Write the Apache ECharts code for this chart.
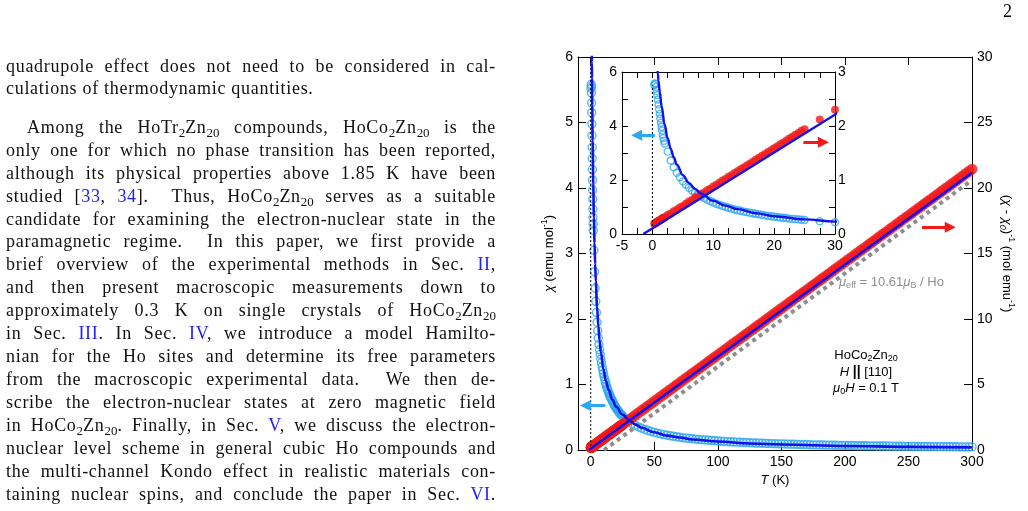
<!DOCTYPE html>
<html>
<head>
<meta charset="UTF-8">
<title>HoCo2Zn20 susceptibility</title>
<script src="https://cdn.jsdelivr.net/npm/echarts@6.0.0/dist/echarts.min.js"></script>
<style>
body{margin:0;background:#fff;width:1028px;height:511px;overflow:hidden;position:relative}
#main{position:absolute;left:0;top:0;width:1028px;height:511px}
.txt{position:absolute;left:6px;width:490px;font-family:"Liberation Serif",serif;font-size:18px;line-height:22.94px;color:#111;letter-spacing:0.7px}
.txt div{text-align:justify;text-align-last:justify;height:22.94px}
.txt div.last{text-align:left;text-align-last:left}
.txt sub{font-size:0.72em;line-height:0;vertical-align:-0.28em;letter-spacing:0}
.ref{color:#2020ff}
#pnum{position:absolute;left:1003px;top:1px;font-family:"Liberation Serif",serif;font-size:18px}
</style>
</head>
<body>
<div id="main"></div>
<div id="pnum">2</div>
<div class="txt" style="top:54.5px">
<div>quadrupole effect does not need to be considered in cal-</div>
<div class="last">culations of thermodynamic quantities.</div>
</div>
<div class="txt" style="top:115.8px">
<div style="padding-left:21px">Among the HoTr<sub>2</sub>Zn<sub>20</sub> compounds, HoCo<sub>2</sub>Zn<sub>20</sub> is the</div>
<div>only one for which no phase transition has been reported,</div>
<div>although its physical properties above 1.85 K have been</div>
<div>studied [<span class="ref">33</span>, <span class="ref">34</span>].&nbsp; Thus, HoCo<sub>2</sub>Zn<sub>20</sub> serves as a suitable</div>
<div>candidate for examining the electron-nuclear state in the</div>
<div>paramagnetic regime.&nbsp; In this paper, we first provide a</div>
<div>brief overview of the experimental methods in Sec. <span class="ref">II</span>,</div>
<div>and then present macroscopic measurements down to</div>
<div>approximately 0.3 K on single crystals of HoCo<sub>2</sub>Zn<sub>20</sub></div>
<div>in Sec. <span class="ref">III</span>. In Sec. <span class="ref">IV</span>, we introduce a model Hamilto-</div>
<div>nian for the Ho sites and determine its free parameters</div>
<div>from the macroscopic experimental data.&nbsp; We then de-</div>
<div>scribe the electron-nuclear states at zero magnetic field</div>
<div>in HoCo<sub>2</sub>Zn<sub>20</sub>. Finally, in Sec. <span class="ref">V</span>, we discuss the electron-</div>
<div>nuclear level scheme in general cubic Ho compounds and</div>
<div>the multi-channel Kondo effect in realistic materials con-</div>
<div>taining nuclear spins, and conclude the paper in Sec. <span class="ref">VI</span>.</div>
</div>
<script type="text/javascript">
// measured data, T (K)
var tempLow = [0.3,0.4,0.5,0.6,0.7,0.8,0.9,1.0,1.1,1.2,1.3,1.4,1.5,1.6,1.7,1.8,1.9];
var chiLow = [5.52,5.58,5.55,5.45,5.30,5.15,4.98,4.80,4.62,4.45,4.28,4.12,3.97,3.83,3.68,3.55,3.45];
var invLow = [0.19,0.20,0.20,0.21,0.22,0.23,0.23,0.24,0.25,0.25,0.26,0.27,0.28,0.28,0.29,0.30,0.30];

var tempMid = [2.0,2.5,3.0,3.5,4.0,4.5,5.0,5.5,6.0,6.5,7.0,7.5,8.0,8.5,9.0,9.5,10.0,10.5,11.0,11.5,12.0,12.5,
  13.0,13.5,14.0,14.5,15.0,15.5,16.0,16.5,17.0,17.5,18.0,18.5,19.0,19.5,20.0,20.5,21.0,21.5,22.0,22.5,
  23.0,23.5,24.0,24.5,25.0];
var chiMid = [3.35,3.05,2.72,2.47,2.27,2.10,1.95,1.82,1.71,1.61,1.53,1.46,1.39,1.33,1.27,1.22,1.17,1.12,1.08,1.04,1.01,0.97,
  0.94,0.91,0.88,0.86,0.83,0.81,0.79,0.77,0.75,0.73,0.71,0.69,0.67,0.66,0.64,0.63,0.61,0.60,0.59,0.57,
  0.56,0.55,0.54,0.53,0.52];
var invMid = [0.31,0.35,0.38,0.42,0.45,0.49,0.52,0.56,0.60,0.63,0.67,0.70,0.74,0.77,0.81,0.84,0.88,0.91,0.95,0.99,1.02,1.06,
  1.09,1.13,1.16,1.20,1.23,1.27,1.30,1.34,1.38,1.41,1.45,1.48,1.52,1.55,1.59,1.62,1.66,1.69,1.73,1.77,
  1.80,1.84,1.87,1.91,1.94];

var tempHigh = [27.5,30,32.5,35,37.5,40,42.5,45,47.5,50,52.5,55,57.5,60,62.5,65,67.5,70,72.5,75,
  77.5,80,82.5,85,87.5,90,92.5,95,97.5,100,102.5,105,107.5,110,112.5,115,117.5,120,122.5,125,
  127.5,130,132.5,135,137.5,140,142.5,145,147.5,150,152.5,155,157.5,160,162.5,165,167.5,170,172.5,175,
  177.5,180,182.5,185,187.5,190,192.5,195,197.5,200,202.5,205,207.5,210,212.5,215,217.5,220,222.5,225,
  227.5,230,232.5,235,237.5,240,242.5,245,247.5,250,252.5,255,257.5,260,262.5,265,267.5,270,272.5,275,
  277.5,280,282.5,285,287.5,290,292.5,295,297.5,300];
var chiHigh = [0.472,0.435,0.405,0.377,0.353,0.332,0.314,0.298,0.282,0.269,
  0.257,0.246,0.235,0.226,0.217,0.209,0.202,0.195,0.188,0.182,
  0.177,0.171,0.166,0.161,0.157,0.153,0.149,0.145,0.141,0.138,
  0.134,0.131,0.128,0.125,0.123,0.120,0.118,0.115,0.113,0.111,
  0.109,0.106,0.105,0.103,0.101,0.099,0.097,0.096,0.094,0.093,
  0.091,0.090,0.088,0.087,0.086,0.084,0.083,0.082,0.081,0.079,
  0.078,0.077,0.076,0.075,0.074,0.073,0.072,0.071,0.071,0.070,
  0.069,0.068,0.067,0.066,0.066,0.065,0.064,0.063,0.063,0.062,
  0.061,0.061,0.060,0.059,0.059,0.058,0.058,0.057,0.056,0.056,
  0.055,0.055,0.054,0.054,0.053,0.053,0.052,0.052,0.051,0.051,
  0.050,0.050,0.050,0.049,0.049,0.048,0.048,0.047,0.047,0.047];
var invHigh = [2.12,2.30,2.47,2.65,2.83,3.01,3.18,3.36,3.54,3.72,
  3.89,4.07,4.25,4.42,4.60,4.78,4.96,5.13,5.31,5.49,
  5.66,5.84,6.02,6.20,6.37,6.55,6.73,6.91,7.08,7.26,
  7.44,7.61,7.79,7.97,8.15,8.32,8.50,8.68,8.86,9.03,
  9.21,9.39,9.56,9.74,9.92,10.10,10.27,10.45,10.63,10.81,
  10.98,11.16,11.34,11.51,11.69,11.87,12.05,12.22,12.40,12.58,
  12.75,12.93,13.11,13.29,13.46,13.64,13.82,13.99,14.17,14.35,
  14.53,14.70,14.88,15.06,15.24,15.41,15.59,15.77,15.94,16.12,
  16.30,16.48,16.65,16.83,17.01,17.19,17.36,17.54,17.72,17.89,
  18.07,18.25,18.43,18.60,18.78,18.96,19.13,19.31,19.49,19.67,
  19.84,20.02,20.20,20.38,20.55,20.73,20.91,21.09,21.26,21.44];

// Curie-Weiss fit curves
var fitChiT = [0.85,0.9,1,1.2,1.5,2,2.5,3,3.5,4,5,6,7,8,10,12,14,17,20,25,30,35,40,50,60,70,80,100,125,150,200,250,300];
var fitChi = [6.04,5.92,5.68,5.26,4.73,4.06,3.55,3.16,2.84,2.58,2.18,1.89,1.67,1.49,1.23,1.05,0.92,0.77,0.66,0.54,
  0.46,0.39,0.34,0.27,0.22,0.19,0.16,0.13,0.10,0.085,0.062,0.048,0.04];
var fitInvT = [-1.5, 300];
var fitInv = [0, 21.16];
// free-ion line, mu_eff = 10.61 mu_B
var muEffT = [10.5, 300];
var muEffInv = [0, 20.6];
// T = 0 guide
var zeroT = [0, 0];
var zeroMain = [0, 6];
var zeroInset = [0, 5.5];
// axis arrows (from, to)
var arrowChiMainT = [11.5, -4.2], arrowChiMainY = [0.68, 0.68];
var arrowInvMainT = [260.7, 282.9], arrowInvMainY = [17.0, 17.0];
var arrowChiInsetT = [0.4, -2.6], arrowChiInsetY = [3.66, 3.66];
var arrowInvInsetT = [24.8, 28.1], arrowInvInsetY = [1.70, 1.70];

// ticks and labels
var mainTTicks = [0,50,100,150,200,250,300];
var insetTTicks = [-5,-2.5,0,2.5,5,7.5,10,12.5,15,17.5,20,22.5,25,27.5,30];
var insetTLabels = [-5,0,10,20,30];
var insetChiTicks = [0,1,2,3,4,5,6];
var insetChiLabels = [0,2,4,6];
var insetInvTicks = [0,0.5,1,1.5,2,2.5,3];
var insetInvLabels = [0,1,2,3];

var tempAll = tempLow.concat(tempMid, tempHigh);
var chiAll = chiLow.concat(chiMid, chiHigh);
var invAll = invLow.concat(invMid, invHigh);

function pairs(xs, ys) {
  return xs.map(function (x, i) { return [x, ys[i]]; });
}

var lightBlue = '#2ca8f0', red = '#f41919', blue = '#1212ea', gray = '#8e8e8e';
var font = 'Liberation Sans';

function arrow(color, xs, ys) {
  return {
    silent: true,
    symbol: ['none', 'triangle'],
    symbolSize: 11,
    label: {show: false},
    lineStyle: {color: color, width: 3, type: 'solid'},
    data: [[{coord: [xs[0], ys[0]]}, {coord: [xs[1], ys[1]]}]]
  };
}

function xAx(grid, min, max, pos, ticks, labels, len) {
  return {
    type: 'value', gridIndex: grid, min: min, max: max, position: pos,
    axisLine: {show: true, onZero: false, lineStyle: {color: '#000', width: 1}},
    axisTick: {show: true, inside: true, length: len, customValues: ticks, lineStyle: {color: '#000'}},
    axisLabel: {show: !!labels, customValues: labels || undefined, color: '#000', fontFamily: font, fontSize: 14, margin: 5},
    splitLine: {show: false}
  };
}

function yAx(grid, min, max, pos, ticks, labels, len) {
  return {
    type: 'value', gridIndex: grid, min: min, max: max, position: pos,
    axisLine: {show: true, onZero: false, lineStyle: {color: '#000', width: 1}},
    axisTick: {show: true, inside: true, length: len, customValues: ticks, lineStyle: {color: '#000'}},
    axisLabel: {show: true, customValues: labels, color: '#000', fontFamily: font, fontSize: 14, margin: 5},
    splitLine: {show: false}
  };
}

var xAxes = [
  xAx(0, -10, 300, 'bottom', mainTTicks, mainTTicks, 8),
  xAx(0, -10, 300, 'top', mainTTicks, null, 8),
  xAx(1, -5, 30, 'bottom', insetTTicks, insetTLabels, 6),
  xAx(1, -5, 30, 'top', insetTTicks, null, 6)
];
xAxes[0].name = '{i|T} (K)';
xAxes[0].nameLocation = 'middle';
xAxes[0].nameGap = 24;
xAxes[0].nameTextStyle = {color: '#000', fontFamily: font, fontSize: 13, rich: {i: {fontStyle: 'italic', fontFamily: font, fontSize: 13}}};

var yAxes = [
  yAx(0, 0, 6, 'left', [0,1,2,3,4,5,6], [0,1,2,3,4,5,6], 8),
  yAx(0, 0, 30, 'right', [0,5,10,15,20,25,30], [0,5,10,15,20,25,30], 8),
  yAx(1, 0, 6, 'left', insetChiTicks, insetChiLabels, 6),
  yAx(1, 0, 3, 'right', insetInvTicks, insetInvLabels, 6)
];
yAxes[3].axisLabel.margin = 3;
yAxes[0].name = '{i|χ} (emu mol{sup|-1})';
yAxes[0].nameLocation = 'middle';
yAxes[0].nameRotate = 90;
yAxes[0].nameGap = 20;
yAxes[0].nameTextStyle = {color: '#000', fontFamily: font, fontSize: 13, lineHeight: 18,
  rich: {i: {fontStyle: 'italic', fontFamily: font, fontSize: 13, lineHeight: 18},
         sup: {fontFamily: font, fontSize: 9, lineHeight: 9, verticalAlign: 'top'}}};
yAxes[1].name = '({i|χ} - {i|χ}{sub|0}){sup|-1} (mol emu{sup|-1})';
yAxes[1].nameLocation = 'middle';
yAxes[1].nameRotate = -90;
yAxes[1].nameGap = 26;
yAxes[1].nameTextStyle = {color: '#000', fontFamily: font, fontSize: 13, lineHeight: 18,
  rich: {i: {fontStyle: 'italic', fontFamily: font, fontSize: 13, lineHeight: 18},
         sub: {fontStyle: 'italic', fontFamily: font, fontSize: 9, lineHeight: 9, verticalAlign: 'bottom'},
         sup: {fontFamily: font, fontSize: 9, lineHeight: 9, verticalAlign: 'top'}}};

function panelSeries(xi, yChi, yInv, zeroTop, circle, dot, lw, arrowChi, arrowInv, withMuEff) {
  var list = [
    {type: 'line', xAxisIndex: xi, yAxisIndex: yChi, data: pairs(zeroT, zeroTop), symbol: 'none', silent: true,
      lineStyle: {color: '#000', width: 1, type: [2, 2]}}
  ];
  if (withMuEff) {
    list.push({type: 'line', xAxisIndex: xi, yAxisIndex: yInv, data: pairs(muEffT, muEffInv), symbol: 'none', silent: true,
      lineStyle: {color: gray, width: 4, type: [4, 4]}});
  }
  return list.concat([
    {type: 'scatter', xAxisIndex: xi, yAxisIndex: yChi, data: pairs(tempAll, chiAll), symbol: 'circle', symbolSize: circle,
      itemStyle: {color: 'rgba(0,0,0,0)', borderColor: lightBlue, borderWidth: 1.4}, markLine: arrowChi},
    {type: 'scatter', xAxisIndex: xi, yAxisIndex: yInv, data: pairs(tempAll, invAll), symbol: 'circle', symbolSize: dot,
      itemStyle: {color: red}, markLine: arrowInv},
    {type: 'line', xAxisIndex: xi, yAxisIndex: yInv, data: pairs(fitInvT, fitInv), symbol: 'none',
      lineStyle: {color: blue, width: lw}},
    {type: 'line', xAxisIndex: xi, yAxisIndex: yChi, data: pairs(fitChiT, fitChi), symbol: 'none',
      smooth: 0.4, smoothMonotone: 'x', lineStyle: {color: blue, width: lw}}
  ]);
}

var mainSeries = panelSeries(0, 0, 1, zeroMain, 8, 11, 2.6,
  arrow(lightBlue, arrowChiMainT, arrowChiMainY), arrow(red, arrowInvMainT, arrowInvMainY), true);
var insetSeries = panelSeries(2, 2, 3, zeroInset, 7, 8, 2.4,
  arrow(lightBlue, arrowChiInsetT, arrowChiInsetY), arrow(red, arrowInvInsetT, arrowInvInsetY), false);

var richSub = {
  i: {fontStyle: 'italic', fontFamily: font, fontSize: 13, lineHeight: 16},
  s: {fontFamily: font, fontSize: 9, lineHeight: 9, verticalAlign: 'bottom'},
  b: {fontWeight: 'bold', fontFamily: font, fontSize: 14, lineHeight: 16}
};

var myChart = echarts.init(document.getElementById('main'));
var option = {
  animation: false,
  backgroundColor: 'transparent',
  grid: [
    {left: 578, top: 57, width: 394, height: 393},
    {left: 622, top: 72, width: 213, height: 162, show: true, backgroundColor: '#fff', borderWidth: 0}
  ],
  xAxis: xAxes,
  yAxis: yAxes,
  series: mainSeries.concat(insetSeries),
  graphic: [
    {type: 'text', left: 839, top: 274, z: 10, style: {text: '{i|μ}{s|eff} = 10.61{i|μ}{s|B} / Ho', fill: gray,
      font: '13px "Liberation Sans"', lineHeight: 16, rich: richSub}},
    {type: 'text', x: 866, y: 355, z: 10, style: {text: 'HoCo{s|2}Zn{s|20}', fill: '#000', align: 'center', verticalAlign: 'middle',
      font: '13px "Liberation Sans"', lineHeight: 16, rich: richSub}},
    {type: 'text', x: 866, y: 372, z: 10, style: {text: '{i|H} {b|||} [110]', fill: '#000', align: 'center', verticalAlign: 'middle',
      font: '13px "Liberation Sans"', lineHeight: 16, rich: richSub}},
    {type: 'text', x: 866, y: 388, z: 10, style: {text: '{i|μ}{s|0}{i|H} = 0.1 T', fill: '#000', align: 'center', verticalAlign: 'middle',
      font: '13px "Liberation Sans"', lineHeight: 16, rich: richSub}}
  ]
};
myChart.setOption(option);
</script>
</body>
</html>
